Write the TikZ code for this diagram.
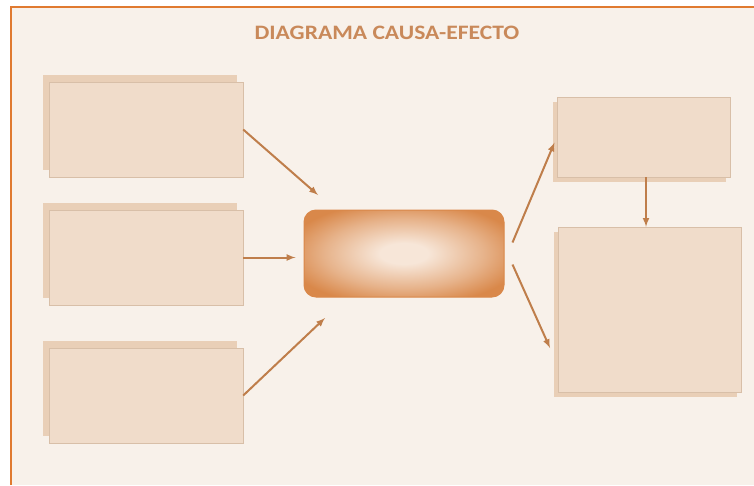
\documentclass[tikz,border=0pt]{standalone}
\usepackage{fontspec}
\setmainfont{Carlito}
\usetikzlibrary{shapes,arrows,shadows}

\definecolor{fondo}{HTML}{F8F1EA}
\definecolor{marco}{HTML}{E07A30}
\definecolor{titulo}{HTML}{C9895A}
\definecolor{caja}{HTML}{F0DCCA}
\definecolor{borde}{HTML}{D8BFA8}
\definecolor{sombra}{HTML}{E9CFB7}
\definecolor{flecha}{HTML}{BF7E4B}
\definecolor{naranja}{HTML}{D9884A}
\definecolor{claro}{HTML}{F7E6D8}

\pgfdeclareradialshading{centroshade}{\pgfpoint{0bp}{0bp}}{%
  color(0bp)=(claro); color(6bp)=(claro); color(20bp)=(naranja!55!claro);
  color(30bp)=(naranja); color(50bp)=(naranja)}

\tikzset{
  causa/.style={draw=borde, fill=caja, minimum width=194pt, minimum height=95pt,
    drop shadow={shadow xshift=-6pt, shadow yshift=7pt, fill=sombra, opacity=1}},
  efecto/.style={draw=borde, fill=caja,
    drop shadow={shadow xshift=-4pt, shadow yshift=-5pt, fill=sombra, opacity=1}},
  flechita/.style={-latex, draw=flecha, line width=2pt}
}

\begin{document}
\begin{tikzpicture}[x=1pt,y=-1pt]
          \useasboundingbox (0,0) rectangle (754,485);
          \fill[fondo] (11,7) rectangle (754,485); % background
          \draw[marco, line width=2.5pt] (11,485) -- (11,7) -- (754,7); % frame
          \node[text=titulo, xscale=1.15, font=\bfseries\fontsize{20.5}{24}\selectfont] (titulo) at (387,33) {DIAGRAMA CAUSA-EFECTO};
          % causes
          \node[causa] (causa1) at (146,129.5) {};
          \node[causa] (causa2) at (146,257.5) {};
          \node[causa] (causa3) at (146,395.5) {};
          % problem
          \node[rounded corners=12pt, minimum width=200pt, minimum height=87pt,
            draw=naranja, line width=1pt, shading=centroshade] (centro) at (404,253.5) {};
          % effects
          \node[efecto, minimum width=173pt, minimum height=80pt] (efecto1) at (643.5,137) {};
          \node[efecto, minimum width=183pt, minimum height=165pt] (efecto2) at (649.5,309.5) {};
          \coordinate (in1) at (318,195);
          \coordinate (in3) at (325,318);
          \coordinate (out2) at (550,348);
          \draw[flechita] (causa1.east) -- (in1);
          \draw[flechita, shorten >=8pt] (causa2.east) -- (causa2.east -| centro.west);
          \draw[flechita] (causa3.east) -- (in3);
          \draw[flechita, shorten >=6pt] ([xshift=8pt, yshift=11pt]centro.east) -- (efecto1.west);
          \draw[flechita] ([xshift=8pt, yshift=-11pt]centro.east) -- (out2);
          \draw[flechita] (efecto1.south -| 646,0) -- (efecto2.north -| 646,0); % down
        \end{tikzpicture}
\end{document}
